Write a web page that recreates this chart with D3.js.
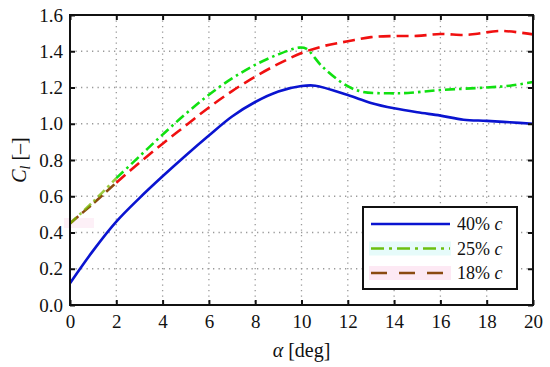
<!DOCTYPE html>
<html><head><meta charset="utf-8">
<script src="https://cdn.jsdelivr.net/npm/d3@7"></script>
<style>body{margin:0;background:#fff}svg{display:block}svg text{font-family:'Liberation Serif','Times New Roman',Times,'DejaVu Serif','Noto Serif',serif !important;fill:#111}</style>
</head><body><svg id="c" width="550" height="367"></svg>
<script>
const xTicks = [0,2,4,6,8,10,12,14,16,18,20];
const yTicks = [0.0,0.2,0.4,0.6,0.8,1.0,1.2,1.4,1.6];
const alpha40 = [0,1,2,3,4,5,6,7,8,9,10,10.6,12,13,14,15,16,17,18,19,20];
const cl40    = [0.12,0.30,0.46,0.59,0.71,0.825,0.935,1.04,1.12,1.178,1.208,1.21,1.158,1.115,1.085,1.063,1.045,1.022,1.016,1.008,1.0];
const alpha25 = [0,1,2,3,4,5,6,7,8,9,9.9,10.2,10.9,11.9,12.6,13.8,14.6,16,18,19,20];
const cl25    = [0.45,0.57,0.70,0.82,0.94,1.055,1.16,1.25,1.325,1.383,1.42,1.415,1.315,1.214,1.177,1.168,1.17,1.186,1.20,1.21,1.23];
const alpha18 = [0,1,2,3,4,5,6,7,8,9,10,11,12,13,14,15,16,17,17.5,18.6,20];
const cl18    = [0.45,0.56,0.675,0.785,0.89,0.99,1.09,1.18,1.26,1.33,1.39,1.43,1.455,1.478,1.484,1.485,1.495,1.49,1.495,1.512,1.493];
const legendLabels = ["40%","25%","18%"];

const FONT = "'Liberation Serif','Times New Roman',Times,'DejaVu Serif','Noto Serif',serif";
const svg = d3.select("#c");
const L=70,R=533,T=15,B=305;
const x = d3.scaleLinear().domain([0,20]).range([L,R]);
const y = d3.scaleLinear().domain([0,1.6]).range([B,T]);

const g = svg.append("g");
g.selectAll(".gx").data(xTicks.slice(1,-1)).join("line")
  .attr("x1",d=>x(d)).attr("x2",d=>x(d)).attr("y1",T).attr("y2",B)
  .attr("stroke","#999").attr("stroke-width",1.3).attr("stroke-dasharray","1.3,4.2");
g.selectAll(".gy").data(yTicks.slice(1,-1)).join("line")
  .attr("y1",d=>y(d)).attr("y2",d=>y(d)).attr("x1",L).attr("x2",R)
  .attr("stroke","#999").attr("stroke-width",1.3).attr("stroke-dasharray","1.3,4.2");

svg.append("rect").attr("x",64).attr("y",y(0.48)).attr("width",30).attr("height",10).attr("fill","#fdf0f7");

const mk = (xs,ys)=>xs.map((a,i)=>[a,ys[i]]);
const line = d3.line().x(d=>x(d[0])).y(d=>y(d[1])).curve(d3.curveCatmullRom.alpha(0.5));
const d40=mk(alpha40,cl40), d25=mk(alpha25,cl25), d18=mk(alpha18,cl18);

svg.append("path").attr("d",line(d40)).attr("fill","none").attr("stroke","#0a14d0").attr("stroke-width",2.6);
svg.append("path").attr("d",line(d18.filter(d=>d[0]<=2))).attr("fill","none").attr("stroke","#8a4a10").attr("stroke-width",2.6).attr("stroke-dasharray","11,5");
svg.append("path").attr("d",line(d25.filter(d=>d[0]<=2))).attr("fill","none").attr("stroke","#7ab800").attr("stroke-width",2.6).attr("stroke-dasharray","9,4,2.5,4").attr("opacity",0.75);
svg.append("path").attr("d",line(d18.filter(d=>d[0]>=2))).attr("fill","none").attr("stroke","#f01010").attr("stroke-width",2.6).attr("stroke-dasharray","12,6");
svg.append("path").attr("d",line(d25.filter(d=>d[0]>=2))).attr("fill","none").attr("stroke","#10e010").attr("stroke-width",2.6).attr("stroke-dasharray","10,4,2.5,4");

svg.append("rect").attr("x",L).attr("y",T).attr("width",R-L).attr("height",B-T).attr("fill","none").attr("stroke","#111").attr("stroke-width",2);

const ax = svg.append("g").attr("transform",`translate(0,${B})`)
  .call(d3.axisBottom(x).tickValues(xTicks).tickSize(-5).tickPadding(10).tickFormat(d3.format("d")));
const ax2 = svg.append("g").attr("transform",`translate(0,${T})`)
  .call(d3.axisTop(x).tickValues(xTicks).tickSize(-5).tickFormat(""));
const ay = svg.append("g").attr("transform",`translate(${L},0)`)
  .call(d3.axisLeft(y).tickValues(yTicks).tickSize(-5).tickPadding(7).tickFormat(d3.format(".1f")));
const ay2 = svg.append("g").attr("transform",`translate(${R},0)`)
  .call(d3.axisRight(y).tickValues(yTicks).tickSize(-5).tickFormat(""));
[ax,ax2,ay,ay2].forEach(a=>{a.attr("font-family",FONT).attr("font-size",19);a.select(".domain").remove();a.selectAll(".tick line").attr("stroke","#111").attr("stroke-width",2);
  a.selectAll("text").attr("font-family",FONT).attr("font-size",19).attr("fill","#111");});

const xl = svg.append("text").attr("x",(L+R)/2).attr("y",357).attr("text-anchor","middle").attr("font-family",FONT).attr("font-size",20);
xl.append("tspan").style("font-style","italic").text("α");
xl.append("tspan").text(" [deg]");
const yl = svg.append("text").attr("transform",`translate(26,${(T+B)/2}) rotate(-90)`).attr("text-anchor","middle").attr("font-family",FONT).attr("font-size",20);
yl.append("tspan").style("font-style","italic").text("C");
yl.append("tspan").style("font-style","italic").attr("font-size",14).attr("dy",4).text("l");
yl.append("tspan").attr("dy",-4).text(" [–]");

const lg = svg.append("g");
const rows=[{c:"#0a14d0",da:null,bg:null},{c:"#6cc010",da:"13,5,3,5",bg:"#e6fbfa"},{c:"#8a4a10",da:"16,12",bg:"#fde9f4"}];
lg.append("rect").attr("x",363).attr("y",207).attr("width",154).attr("height",82).attr("fill","#fff").attr("stroke","#111").attr("stroke-width",2);
rows.forEach((r,i)=>{
  const yy=224+i*24.5;
  if(r.bg) lg.append("rect").attr("x",369).attr("y",yy-7).attr("width",82).attr("height",14).attr("fill",r.bg);
  lg.append("line").attr("x1",371).attr("x2",450).attr("y1",yy).attr("y2",yy).attr("stroke",r.c).attr("stroke-width",2.4).attr("stroke-dasharray",r.da);
  const t=lg.append("text").attr("x",457).attr("y",yy+6).attr("font-family",FONT).attr("font-size",18);
  t.append("tspan").text(legendLabels[i]+" ");
  t.append("tspan").style("font-style","italic").text("c");
});
</script></body></html>
